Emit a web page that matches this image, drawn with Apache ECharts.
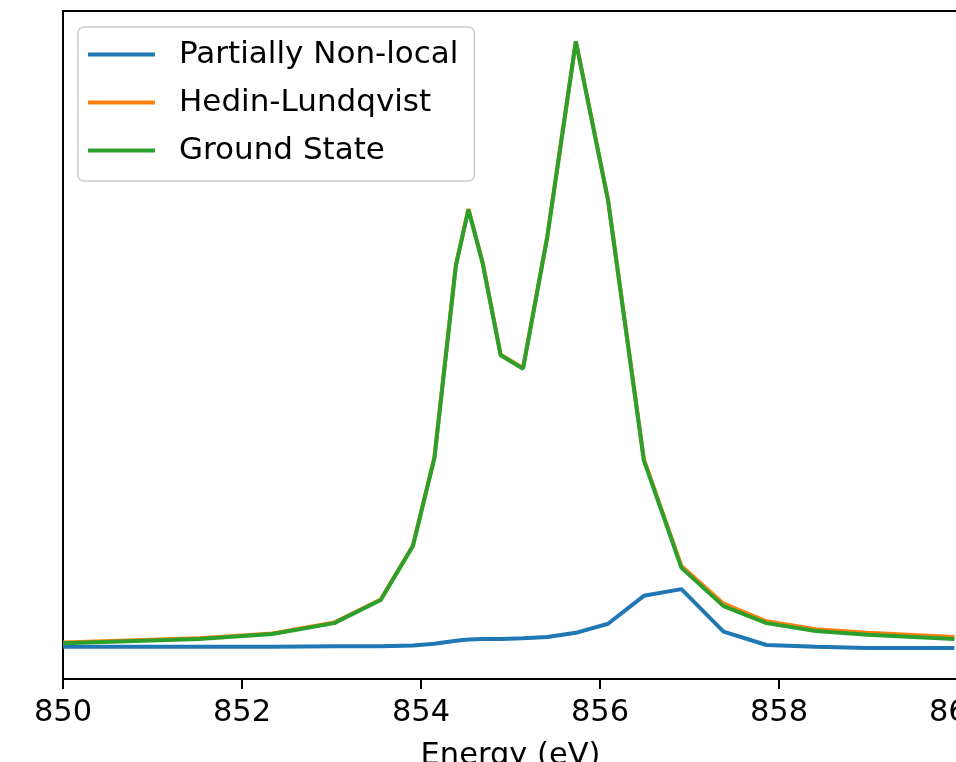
<!DOCTYPE html>
<html>
<head>
<meta charset="utf-8">
<script src="https://cdn.jsdelivr.net/npm/echarts@6/dist/echarts.min.js"></script>
<style>
    html, body {margin: 0; padding: 0; background: #fff;}
    #main {width: 956px; height: 762px;}
</style>
</head>
<body>
<div id="main"></div>
<script>
// energies (eV) of the sampled points
const energy = [850.0, 851.52, 852.34, 853.03, 853.55, 853.91, 854.15, 854.39, 854.53, 854.69, 854.89,
    855.14, 855.41, 855.73, 856.09, 856.49, 856.91, 857.38, 857.86, 858.41, 858.99, 859.96];

const partiallyNonLocal = [0.003, 0.003, 0.003, 0.004, 0.004, 0.005, 0.008, 0.013, 0.015, 0.016, 0.016,
    0.017, 0.019, 0.026, 0.041, 0.087, 0.098, 0.028, 0.006, 0.003, 0.001, 0.001];

const hedinLundqvist = [0.010, 0.017, 0.025, 0.043, 0.081, 0.170, 0.315, 0.632, 0.724, 0.635, 0.484,
    0.462, 0.678, 1.000, 0.739, 0.312, 0.136, 0.074, 0.045, 0.032, 0.026, 0.019];

const groundState = [0.009, 0.016, 0.024, 0.042, 0.080, 0.169, 0.314, 0.631, 0.723, 0.634, 0.483,
    0.461, 0.677, 1.000, 0.738, 0.310, 0.133, 0.070, 0.042, 0.029, 0.023, 0.016];

const seriesNames = ['Partially Non-local', 'Hedin-Lundqvist', 'Ground State'];
const seriesColors = ['#1f77b4', '#ff7f0e', '#2ca02c'];

const font = 'DejaVu Sans';

const pairs = (ys) => energy.map((x, i) => [x, ys[i]]);

const chart = echarts.init(document.getElementById('main'));
chart.setOption({
    animation: false,
    backgroundColor: '#fff',
    textStyle: {fontFamily: font},
    grid: {
        left: 63,
        top: 11,
        width: 895,
        height: 668,
        outerBoundsMode: 'none',
        containLabel: false,
        show: true,
        borderColor: '#000',
        borderWidth: 2,
        backgroundColor: 'transparent'
    },
    legend: {
        orient: 'vertical',
        left: 78,
        top: 27,
        padding: [12, 16, 15, 10],
        itemGap: 17,
        itemWidth: 67,
        itemHeight: 4,
        icon: 'rect',
        borderColor: '#cccccc',
        borderWidth: 1.5,
        borderRadius: 6,
        backgroundColor: 'rgba(255,255,255,0.8)',
        textStyle: {
            fontFamily: font,
            fontSize: 31,
            lineHeight: 30,
            color: '#000',
            padding: [0, 0, 0, 19]
        },
        data: seriesNames
    },
    xAxis: {
        type: 'value',
        min: 850,
        max: 860,
        interval: 2,
        name: 'Energy (eV)',
        nameLocation: 'middle',
        nameGap: 62,
        nameTextStyle: {fontFamily: font, fontSize: 30.5, color: '#000'},
        axisLine: {show: true, onZero: false, lineStyle: {color: '#000', width: 2}},
        axisTick: {show: true, length: 10, lineStyle: {color: '#000', width: 2}},
        axisLabel: {fontFamily: font, fontSize: 30.5, color: '#000', margin: 19},
        splitLine: {show: false}
    },
    yAxis: {
        type: 'value',
        min: -0.05,
        max: 1.05,
        axisLine: {show: true, onZero: false, lineStyle: {color: '#000', width: 2}},
        axisTick: {show: false},
        axisLabel: {show: false},
        splitLine: {show: false}
    },
    series: [
        {
            name: seriesNames[0],
            type: 'line',
            symbol: 'none',
            color: seriesColors[0],
            lineStyle: {width: 4, color: seriesColors[0]},
            data: pairs(partiallyNonLocal)
        }, {
            name: seriesNames[1],
            type: 'line',
            symbol: 'none',
            color: seriesColors[1],
            lineStyle: {width: 4, color: seriesColors[1]},
            data: pairs(hedinLundqvist)
        }, {
            name: seriesNames[2],
            type: 'line',
            symbol: 'none',
            color: seriesColors[2],
            lineStyle: {width: 4, color: seriesColors[2]},
            data: pairs(groundState)
        }
    ]
});
</script>
</body>
</html>
